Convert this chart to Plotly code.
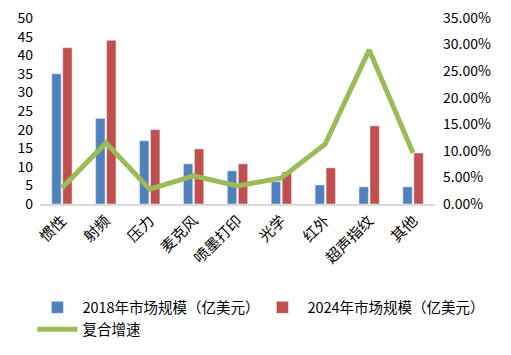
import plotly.graph_objects as go

categories = ["惯性", "射频", "压力", "麦克风", "喷墨打印", "光学", "红外", "超声指纹", "其他"]
size_2018 = [35, 23, 17, 10.8, 8.9, 6, 5.1, 4.6, 4.6]
size_2024 = [42, 44, 20, 14.8, 10.8, 8.6, 9.7, 21, 13.7]
cagr = [0.030, 0.115, 0.028, 0.053, 0.034, 0.049, 0.113, 0.290, 0.096]

font_family = "Noto Sans CJK SC, Microsoft YaHei, sans-serif"

fig = go.Figure()
fig.add_trace(go.Bar(x=categories, y=size_2018, name="2018年市场规模（亿美元）",
                     marker_color="#4F81BD"))
fig.add_trace(go.Bar(x=categories, y=size_2024, name="2024年市场规模（亿美元）",
                     marker_color="#C0504D"))
fig.add_trace(go.Scatter(x=categories, y=cagr, name="复合增速", mode="lines",
                         line=dict(color="#9BBB59", width=5), yaxis="y2"))

# page body has an 8px default margin, so the figure is 8px smaller and offset
fig.update_layout(
    width=503, height=347,
    margin=dict(l=32, r=76, t=10, b=151, autoexpand=False),
    plot_bgcolor="white", paper_bgcolor="white",
    font=dict(family=font_family, size=14, color="black"),
    barmode="group", bargap=0.5, bargroupgap=0.15,
    showlegend=True,
    legend=dict(orientation="h", x=1.12, xanchor="right", y=-0.47, yanchor="top",
                font=dict(size=14.5), entrywidth=170, itemwidth=40,
                tracegroupgap=0),
    xaxis=dict(tickangle=-45, showline=True, linecolor="#D9D9D9", linewidth=2,
               ticks="", showgrid=False, tickfont=dict(size=15), automargin=False),
    yaxis=dict(range=[0, 50], dtick=5, showgrid=False, zeroline=False,
               showline=False, ticks="", tickfont=dict(size=14), automargin=False,
               ticklabelstandoff=6, ticklabeloverflow="allow"),
    yaxis2=dict(range=[0, 0.35], dtick=0.05, tickformat=".2%", overlaying="y",
                side="right", showgrid=False, zeroline=False, showline=False,
                ticks="", tickfont=dict(size=14), automargin=False,
                ticklabelstandoff=7, ticklabeloverflow="allow"),
)

fig.write_html("out.html")
